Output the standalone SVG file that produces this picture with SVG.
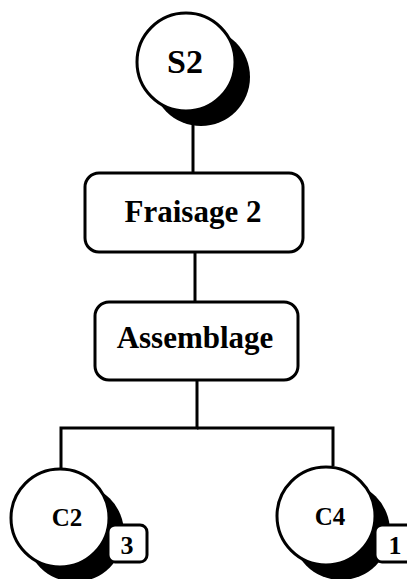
<svg xmlns="http://www.w3.org/2000/svg" width="407" height="579" viewBox="0 0 407 579">
<style>
.ln{stroke:#000;stroke-width:3;fill:none}
.c{fill:#fff;stroke:#000;stroke-width:3}
.sh{fill:#000}
.bx{fill:#fff;stroke:#000;stroke-width:3}
text{font-family:"Liberation Serif","Times New Roman",serif;font-weight:bold;fill:#000;text-anchor:middle}
</style>
<rect width="407" height="579" fill="#fff"/>
<g id="connectors">
<line class="ln" x1="193" y1="120" x2="193" y2="174"/>
<line class="ln" x1="195" y1="252" x2="195" y2="302"/>
<polyline class="ln" points="197,380 197,428 61,428 61,468"/>
<polyline class="ln" points="197,428 333,428 333,466"/>
</g>
<g id="S2">
<circle class="sh" cx="201" cy="77" r="49"/>
<circle class="c" cx="186" cy="62" r="49"/>
<text x="185" y="73" font-size="34">S2</text>
</g>
<g id="Fraisage2">
<rect class="bx" x="85" y="173" width="218" height="79" rx="14"/>
<text x="193" y="222" font-size="31">Fraisage 2</text>
</g>
<g id="Assemblage">
<rect class="bx" x="95" y="302" width="203" height="78" rx="14"/>
<text x="195" y="348" font-size="31">Assemblage</text>
</g>
<g id="C2">
<circle class="sh" cx="75" cy="533" r="49"/>
<circle class="c" cx="60" cy="518" r="49"/>
<text x="67" y="526" font-size="25">C2</text>
<rect class="bx" x="108" y="525" width="39" height="37" rx="7"/>
<text x="127" y="554" font-size="26">3</text>
</g>
<g id="C4">
<circle class="sh" cx="341" cy="531" r="49"/>
<circle class="c" cx="326" cy="516" r="49"/>
<text x="330" y="525" font-size="25">C4</text>
<rect class="bx" x="375" y="525" width="39" height="37" rx="7"/>
<text x="395" y="554" font-size="26">1</text>
</g>
</svg>
